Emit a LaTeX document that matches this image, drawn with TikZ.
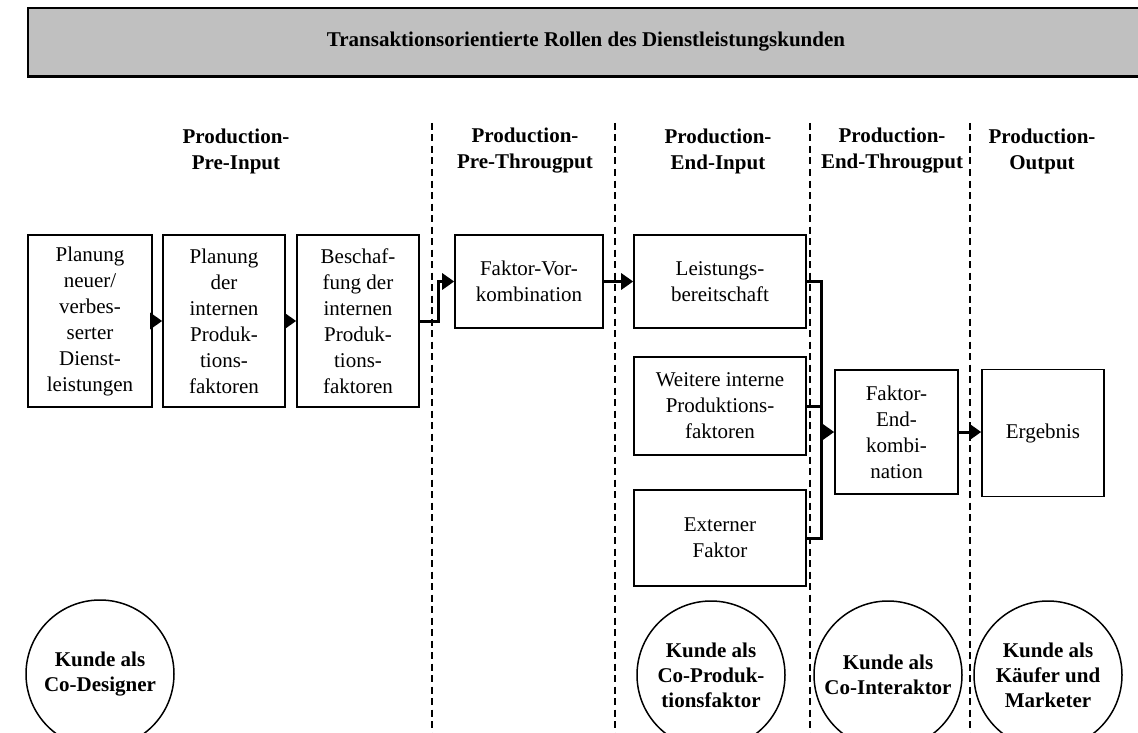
\documentclass[tikz,border=0pt]{standalone}
\usepackage{fontspec}
\setmainfont{Liberation Serif}
\usetikzlibrary{arrows.meta}
\definecolor{titlegray}{HTML}{C0C0C0}
\begin{document}
\begin{tikzpicture}[x=1pt,y=-1pt,
  txt/.style={font=\fontsize{21}{26}\selectfont, align=center},
  box/.style={draw, line width=1.6pt, txt, inner sep=0pt},
  hdr/.style={font=\fontsize{21}{26}\selectfont\bfseries, align=center},
  role/.style={draw, circle, line width=1.5pt, minimum size=148pt, inner sep=0pt,
               font=\fontsize{21}{25}\selectfont\bfseries, align=center},
  sep/.style={line width=2.6pt, dash pattern=on 7pt off 4.5pt},
  conn/.style={line width=3pt, -{Triangle[length=12pt,width=16pt]}},
  bus/.style={line width=3pt},
]
\clip (0,0) rectangle (1138,733);
\fill[white] (0,0) rectangle (1138,733);

% title
\node[draw, fill=titlegray, line width=1.8pt, minimum width=1116pt, minimum height=68pt,
      hdr, inner sep=0pt] (title) at (586,42) {Transaktionsorientierte Rollen des Dienstleistungskunden};
\draw[line width=2.6pt] (title.south west) -- (title.south east);

% separators
\foreach \n/\x in {s1/432, s2/615, s3/810, s4/970}{
  \coordinate (\n t) at (\x,123);
  \coordinate (\n b) at (\x,740);
  \draw[sep] (\n t) -- (\n b);
}

% headers
\node[hdr] (h1) at (236,151) {Production-\\Pre-Input};
\node[hdr] (h2) at (525,151) {Production-\\Pre-Througput};
\node[hdr] (h3) at (718,151) {Production-\\End-Input};
\node[hdr] (h4) at (892,151) {Production-\\End-Througput};
\node[hdr] (h5) at (1042,151) {Production-\\Output};

% boxes
\node[box, minimum width=124pt, minimum height=172pt] (b1) at (90,321)
  {Planung\\neuer/\\verbes-\\serter\\Dienst-\\leistungen};
\node[box, minimum width=122pt, minimum height=172pt] (b2) at (224,321)
  {Planung\\der\\internen\\Produk-\\tions-\\faktoren};
\node[box, minimum width=122pt, minimum height=172pt] (b3) at (358,321)
  {Beschaf-\\fung der\\internen\\Produk-\\tions-\\faktoren};
\node[box, minimum width=148pt, minimum height=93pt] (b4) at (529,281.5)
  {Faktor-Vor-\\kombination};
\node[box, minimum width=172pt, minimum height=93pt] (b5) at (720,281.5)
  {Leistungs-\\bereitschaft};
\node[box, minimum width=172pt, minimum height=98pt] (b6) at (720,406)
  {Weitere interne\\Produktions-\\faktoren};
\node[box, minimum width=172pt, minimum height=96pt] (b7) at (720,538)
  {Externer\\Faktor};
\node[box, minimum width=123pt, minimum height=124pt] (b8) at (896.5,432)
  {Faktor-\\End-\\kombi-\\nation};
\node[box, minimum width=122pt, minimum height=127pt] (b9) at (1043,433)
  {Ergebnis};

% connectors
\draw[conn] (b1) -- (b2);
\draw[conn] (b2) -- (b3);
\draw[conn] (b3.east) -- ++(19,0) |- (b4.west);
\draw[conn] (b4) -- (b5);
\coordinate (bt) at (821,281.5);
\coordinate (bb) at (821,538);
\draw[bus, line join=miter] (b5.east) -- (bt) -- (bb) -- (b7.east);
\draw[bus] (b6.east) -- (b6.east -| bt);
\draw[conn] (b8.west -| bt) -- (b8.west);
\draw[conn] (b8.east) -- (b8.east -| b9.west);

% roles
\node[role] (c1) at (100,674) {Kunde als\\Co-Designer};
\node[role] (c2) at (711,675) {Kunde als\\Co-Produk-\\tionsfaktor};
\node[role] (c3) at (888,675) {Kunde als\\Co-Interaktor};
\node[role] (c4) at (1048,675) {Kunde als\\Käufer und\\Marketer};
\end{tikzpicture}
\end{document}
